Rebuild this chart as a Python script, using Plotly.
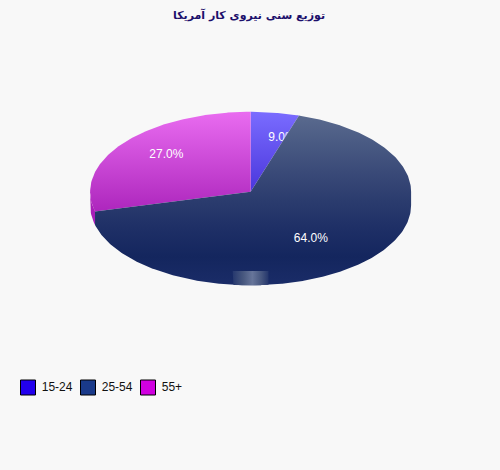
import numpy as np
import plotly.graph_objects as go

title = "توزیع سنی نیروی کار آمریکا"
age_groups = ["15-24", "25-54", "55+"]
shares = [9.0, 64.0, 27.0]
legend_colors = ["#2200ee", "#1a3a8a", "#d000e0"]
top_gradients = [
    ["#4a36dc", "#7a6cff"],
    ["#1a2c68", "#14265e", "#1e2f66", "#2b3c6e", "#3a4a78", "#495a83", "#5a6a8e"],
    ["#ad26bd", "#e96cf0"],
]
side_colors = ["#3a28c8", "#14265e", "#a81fb8"]

# pie geometry, in page pixels
cx, cy = 250.6, 191.8
rx, ry = 160.5, 80
depth = 13.5


# wedge edges are straight rays at the true angle, cut off by the ellipse
def rim(deg, shift=0):
    t = np.radians(deg)
    r = 1 / np.sqrt((np.sin(t) / rx) ** 2 + (np.cos(t) / ry) ** 2)
    return cx + r * np.sin(t), cy - r * np.cos(t) + shift


def arc(a, b, shift=0):
    degs = np.linspace(a, b, max(int(abs(b - a)) * 2, 2))
    x, y = rim(degs, shift)
    return list(x), list(y)


def gradient(colors):
    n = len(colors) - 1
    return dict(type="vertical", colorscale=[[i / n, c] for i, c in enumerate(colors)])


edges = np.concatenate([[0], np.cumsum(shares)]) * 3.6

fig = go.Figure()


def add_poly(x, y, colors):
    fig.add_trace(go.Scatter(x=x, y=y, mode="lines", line=dict(width=0), fill="toself",
                             fillgradient=gradient(colors), hoverinfo="skip", showlegend=False))


def add_label(i):
    mid = np.radians((edges[i] + edges[i + 1]) / 2)
    fig.add_trace(go.Scatter(x=[cx + 0.7 * rx * np.sin(mid)], y=[cy - 0.7 * ry * np.cos(mid)],
                             mode="text", text=[f"{shares[i]:.1f}%"],
                             textfont=dict(family="Liberation Sans", size=12, color="white"),
                             hoverinfo="skip", showlegend=False))


# 15-24 goes first, its label gets covered by the 25-54 slice
x, y = arc(edges[0], edges[1])
add_poly([cx] + x + [cx], [cy] + y + [cy], top_gradients[0])
add_label(0)

# 55+ with a bit of side wall on the left
x, y = arc(edges[2], edges[3])
add_poly([cx] + x + [cx], [cy] + y + [cy], top_gradients[2])
sx1, sy1 = arc(edges[2], 270)
sx2, sy2 = arc(270, edges[2], depth)
fig.add_trace(go.Scatter(x=sx1 + sx2, y=sy1 + sy2, mode="lines", line=dict(width=0), fill="toself",
                         fillcolor=side_colors[2], hoverinfo="skip", showlegend=False))
add_label(2)

# 25-54 top and wall as one shape
x1, y1 = arc(edges[1], 90)
x2, y2 = arc(90, edges[2], depth)
x3, y3 = rim(edges[2])
add_poly([cx] + x1 + x2 + [x3, cx], [cy] + y1 + y2 + [y3, cy], top_gradients[1])
add_label(1)

# light patch at the bottom of the wall
bx, by = arc(192.7, 167.3, depth)
fig.add_trace(go.Scatter(x=[bx[0]] + bx + [bx[-1], bx[0]], y=[271] + by + [271, 271],
                         mode="lines", line=dict(width=0), fill="toself",
                         fillgradient=dict(type="horizontal", colorscale=[
                             [0, "#26386e"], [0.3, "#48587f"], [0.55, "#67759a"],
                             [0.8, "#46567f"], [1, "#24366c"]]),
                         hoverinfo="skip", showlegend=False))

# legend boxes
fig.add_trace(go.Scatter(x=[28 + 60 * i for i in range(len(age_groups))], y=[387.5] * len(age_groups),
                         mode="markers+text", text=["\u00a0" + g for g in age_groups],
                         textposition="middle right",
                         marker=dict(symbol="square", size=15, color=legend_colors,
                                     line=dict(color="black", width=1)),
                         textfont=dict(family="Liberation Sans", size=12, color="#111111"),
                         hoverinfo="skip", showlegend=False))

fig.add_annotation(x=248.5, y=15, xref="x", yref="y", text=f"<b>{title}</b>", showarrow=False,
                   font=dict(family="DejaVu Sans", size=11, color="#1c0f6b"))

fig.update_xaxes(range=[0, 500], visible=False)
fig.update_yaxes(range=[470, 0], visible=False)
fig.update_layout(width=500, height=470, margin=dict(l=0, r=0, t=0, b=0),
                  paper_bgcolor="#f8f8f8", plot_bgcolor="#f8f8f8", showlegend=False)

# drop the page margin so the figure fills the window
fig.write_html("out.html", config={"displayModeBar": False},
               post_script="document.body.style.margin='0';document.body.style.overflow='hidden';")
